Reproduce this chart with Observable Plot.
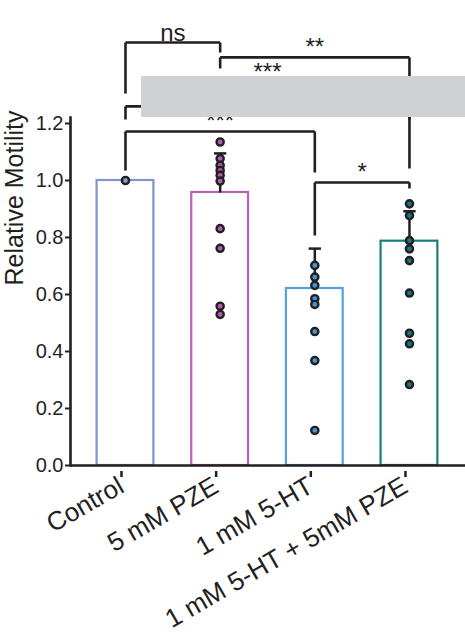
<!DOCTYPE html>
<html><head><meta charset="utf-8">
<script src="https://cdn.jsdelivr.net/npm/d3@7"></script>
<script src="https://cdn.jsdelivr.net/npm/@observablehq/plot@0.6"></script>
<style>
body{margin:0;background:#fff;}
#wrap{position:relative;width:465px;height:638px;overflow:hidden;}
#mask{position:absolute;left:141px;top:76px;width:324px;height:41px;background:#d0d1d3;}
</style></head><body>
<div id="wrap"></div>
<script>
// ---- data ----
const groups = ["Control", "5 mM PZE", "1 mM 5-HT", "1 mM 5-HT + 5mM PZE"];
const means = [1.0, 0.958, 0.621, 0.787];
const errUpper = [0, 0.137, 0.14, 0.105];
const controlPts = [1.0];
const pzePts = [1.135, 1.077, 1.053, 1.035, 1.018, 0.998, 0.831, 0.762, 0.559, 0.530];
const htPts = [0.702, 0.661, 0.632, 0.585, 0.565, 0.470, 0.368, 0.123];
const comboPts = [0.918, 0.877, 0.789, 0.760, 0.719, 0.605, 0.464, 0.427, 0.284];
const yTicks = [0, 0.2, 0.4, 0.6, 0.8, 1.0, 1.2];
const yLabel = "Relative Motility";
const comparisons = [
  {a: 0, b: 1, label: "ns"},
  {a: 1, b: 3, label: "**"},
  {a: 1, b: 2, label: "***"},
  {a: 0, b: 3, label: ""},
  {a: 0, b: 2, label: "***"},
  {a: 2, b: 3, label: "*"}
];
// ---- layout / style ----
const bracketY = [1.484, 1.432, 1.344, 1.26, 1.172, 0.993];
const legEndA = [1.305, 1.393, 1.24, 1.214, 1.035, 0.807];
const legEndB = [1.449, 1.042, 1.24, 1.214, 1.028, 0.972];
const barColors = ["#8492cf", "#b464b4", "#5aa0dc", "#1b7b84"];
const dotColors = ["#8595d0", "#b05cb0", "#4397d8", "#157580"];
const ink = "#231f20";
const barHalf = 0.3, capHalf = 0.065;

const bars = groups.map((g, i) => ({i, mean: means[i], err: errUpper[i]}));
const pts = [controlPts, pzePts, htPts, comboPts].flatMap((arr, i) => arr.map(v => ({i, v})));
const segs = [];
comparisons.forEach((c, k) => {
  segs.push({x1: c.a, x2: c.b, y1: bracketY[k], y2: bracketY[k]});
  segs.push({x1: c.a, x2: c.a, y1: bracketY[k], y2: legEndA[k]});
  segs.push({x1: c.b, x2: c.b, y1: bracketY[k], y2: legEndB[k]});
});
const labels = comparisons.map((c, k) => ({x: (c.a + c.b) / 2, y: bracketY[k], label: c.label})).filter(d => d.label);

const chart = Plot.plot({
  width: 465, height: 638,
  marginLeft: 70, marginRight: 0, marginTop: 117, marginBottom: 173,
  style: {fontFamily: "'Liberation Sans', Arial, Helvetica, sans-serif", fontSize: "20px", color: ink, background: "white"},
  x: {domain: [-0.581, 3.592]},
  y: {domain: [0, 1.221]},
  marks: [
    Plot.rectY(bars, {x1: d => d.i - barHalf, x2: d => d.i + barHalf, y1: 0, y2: "mean", fill: "white", stroke: d => barColors[d.i], strokeWidth: 2.2}),
    Plot.link(bars.filter(d => d.err > 0), {x1: "i", x2: "i", y1: "mean", y2: d => d.mean + d.err, stroke: ink, strokeWidth: 2.5}),
    Plot.link(bars.filter(d => d.err > 0), {x1: d => d.i - capHalf, x2: d => d.i + capHalf, y1: d => d.mean + d.err, y2: d => d.mean + d.err, stroke: ink, strokeWidth: 2.5}),
    Plot.ruleY([0], {stroke: ink, strokeWidth: 2.6}),
    Plot.frame({anchor: "left", stroke: ink, strokeWidth: 2.6}),
    Plot.axisY({ticks: yTicks, tickFormat: d3.format(".1f"), tickSize: 5, tickPadding: 2, strokeWidth: 2, fontSize: 20, label: null}),
    Plot.text([yLabel], {frameAnchor: "left", text: d => d, rotate: -90, dx: -56, dy: -6, fontSize: 25, fill: ink}),
    Plot.axisX({ticks: [0, 1, 2, 3], tickFormat: i => groups[i], tickRotate: -30, tickSize: 6, strokeWidth: 2.5, fontSize: 26, dx: -4, dy: 6, label: null}),
    Plot.dot(pts, {x: "i", y: "v", r: 3.6, fill: d => dotColors[d.i], stroke: ink, strokeWidth: 2.4}),
    Plot.link(segs, {x1: "x1", x2: "x2", y1: "y1", y2: "y2", stroke: ink, strokeWidth: 2.6}),
    Plot.text(labels, {x: "x", y: "y", text: "label", fontSize: 24, lineAnchor: "bottom", dy: -2, fill: ink})
  ]
});
const wrap = document.getElementById("wrap");
wrap.appendChild(chart);
const mask = document.createElement("div");
mask.id = "mask";
wrap.appendChild(mask);
</script>
</body></html>
